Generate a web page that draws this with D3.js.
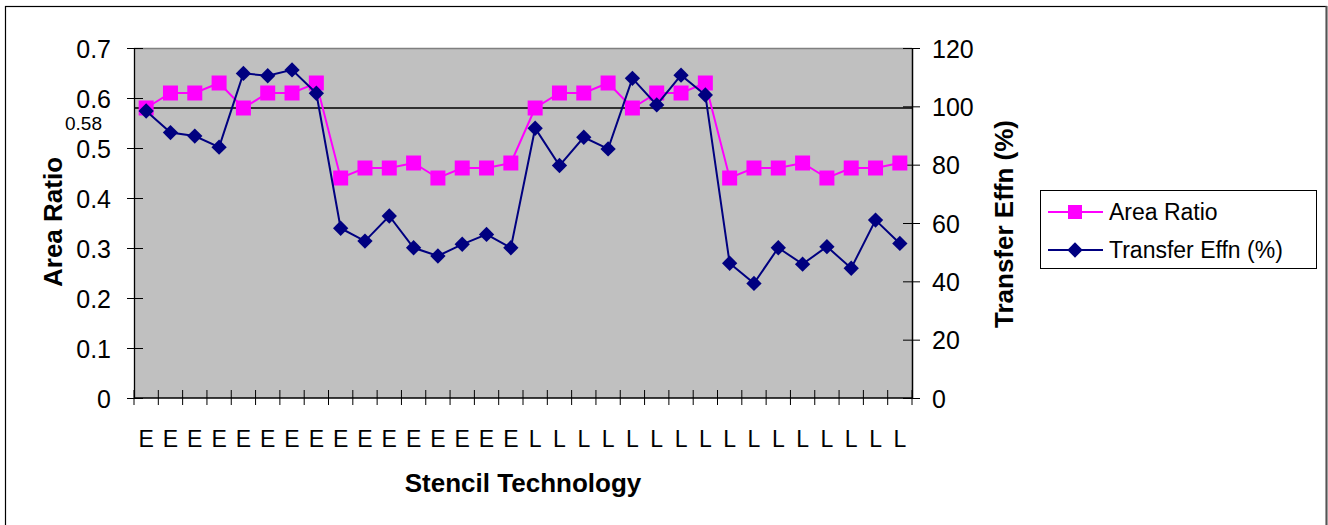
<!DOCTYPE html>
<html>
<head>
<meta charset="utf-8">
<script src="https://cdn.jsdelivr.net/npm/d3@7"></script>
<style>
  html, body { margin: 0; padding: 0; background: #fff; }
  svg { display: block; font-family: "Liberation Sans", Arial, sans-serif; }
</style>
</head>
<body>
<svg id="chart" width="1328" height="525"></svg>
<script>
// Stencil technology per sample (E = electroformed, L = laser cut)
const categories = [
  "E","E","E","E","E","E","E","E","E","E","E","E","E","E","E","E",
  "L","L","L","L","L","L","L","L","L","L","L","L","L","L","L","L"
];
// Aperture area ratio (left axis)
const areaRatio = [
  0.58, 0.61, 0.61, 0.63, 0.58, 0.61, 0.61, 0.63,
  0.44, 0.46, 0.46, 0.47, 0.44, 0.46, 0.46, 0.47,
  0.58, 0.61, 0.61, 0.63, 0.58, 0.61, 0.61, 0.63,
  0.44, 0.46, 0.46, 0.47, 0.44, 0.46, 0.46, 0.47
];
// Paste transfer efficiency in % (right axis)
const transferEffn = [
  98.4, 91.0, 89.8, 86.0, 111.3, 110.5, 112.5, 104.5,
  58.2, 53.8, 62.4, 51.5, 48.7, 52.7, 56.1, 51.5,
  92.5, 79.7, 89.4, 85.4, 109.6, 100.5, 110.7, 103.9,
  46.2, 39.3, 51.5, 45.9, 51.9, 44.5, 61.0, 53.0
];
const leftTicks = [0, 0.1, 0.2, 0.3, 0.4, 0.5, 0.6, 0.7];
const rightTicks = [0, 20, 40, 60, 80, 100, 120];
const thresholdValue = 0.58;
const thresholdLabel = "0.58";
const seriesNames = ["Area Ratio", "Transfer Effn (%)"];

const svg = d3.select("#chart");
const plot = { left: 134, right: 912, top: 48, bottom: 398 };
const tickFont = 25, titleFont = 26;

// outer chart frame
svg.append("rect")
  .attr("x", 5.5).attr("y", 6.5).attr("width", 1321).attr("height", 530)
  .attr("fill", "#fff").attr("stroke", "#000").attr("stroke-width", 1.2);
svg.append("line")
  .attr("x1", 1326.5).attr("x2", 1326.5).attr("y1", 6).attr("y2", 525)
  .attr("stroke", "#555").attr("stroke-width", 2);

const x = d3.scaleBand()
  .domain(d3.range(categories.length))
  .range([plot.left, plot.right])
  .paddingInner(0).paddingOuter(0);
const xc = i => x(i) + x.bandwidth() / 2;
const yL = d3.scaleLinear().domain([0, 0.7]).range([plot.bottom, plot.top]);
const yR = d3.scaleLinear().domain([0, 120]).range([plot.bottom, plot.top]);

// plot background
svg.append("rect")
  .attr("x", plot.left).attr("y", plot.top)
  .attr("width", plot.right - plot.left).attr("height", plot.bottom - plot.top)
  .attr("fill", "#c0c0c0");
svg.append("line")
  .attr("x1", plot.left).attr("x2", plot.right)
  .attr("y1", plot.top + 0.5).attr("y2", plot.top + 0.5)
  .attr("stroke", "#808080").attr("stroke-width", 1.5);

// left axis
const leftAxis = svg.append("g")
  .attr("transform", `translate(${plot.left},0)`)
  .call(d3.axisLeft(yL).tickValues(leftTicks).tickFormat(d => d === 0 ? "0" : d3.format(".1f")(d))
    .tickSizeInner(7).tickSizeOuter(0).tickPadding(16));
leftAxis.select(".domain").attr("stroke", "#000").attr("stroke-width", 1.3);
leftAxis.selectAll(".tick line").attr("x2", 9).attr("x1", -7).attr("stroke", "#000");
leftAxis.selectAll(".tick text").attr("font-size", tickFont).attr("fill", "#000")
  .attr("font-family", "Liberation Sans, Arial, sans-serif").attr("dy", "0.36em");

// right axis
const rightAxis = svg.append("g")
  .attr("transform", `translate(${plot.right},0)`)
  .call(d3.axisRight(yR).tickValues(rightTicks).tickFormat(d3.format("d"))
    .tickSizeInner(8).tickSizeOuter(0).tickPadding(12));
rightAxis.select(".domain").attr("stroke", "#000").attr("stroke-width", 1.5);
rightAxis.selectAll(".tick line").attr("x1", -9).attr("x2", 8).attr("stroke", "#000");
rightAxis.selectAll(".tick text").attr("font-size", tickFont).attr("fill", "#000")
  .attr("font-family", "Liberation Sans, Arial, sans-serif").attr("dy", "0.36em");

// bottom axis: ticks on band boundaries, labels centred in bands
const boundaries = d3.range(categories.length + 1).map(i => plot.left + i * x.bandwidth());
svg.append("line")
  .attr("x1", plot.left).attr("x2", plot.right)
  .attr("y1", plot.bottom).attr("y2", plot.bottom)
  .attr("stroke", "#000").attr("stroke-width", 1.3);
svg.append("g").selectAll("line").data(boundaries).join("line")
  .attr("x1", d => d).attr("x2", d => d)
  .attr("y1", plot.bottom - 8).attr("y2", plot.bottom + 7)
  .attr("stroke", "#000").attr("stroke-width", 1);
svg.append("g").selectAll("text").data(categories).join("text")
  .attr("x", (d, i) => xc(i)).attr("y", 447)
  .attr("text-anchor", "middle").attr("font-size", 23).attr("fill", "#000")
  .text(d => d);

// axis titles
svg.append("text")
  .attr("transform", "translate(62,222) rotate(-90)")
  .attr("text-anchor", "middle").attr("font-size", titleFont).attr("font-weight", "bold")
  .text(seriesNames[0]);
svg.append("text")
  .attr("transform", "translate(1013,224) rotate(-90)")
  .attr("text-anchor", "middle").attr("font-size", titleFont).attr("font-weight", "bold")
  .text(seriesNames[1]);
svg.append("text")
  .attr("x", 523).attr("y", 492)
  .attr("text-anchor", "middle").attr("font-size", titleFont).attr("font-weight", "bold")
  .text("Stencil Technology");

// threshold reference line with its label
svg.append("line")
  .attr("x1", plot.left).attr("x2", plot.right)
  .attr("y1", yL(thresholdValue)).attr("y2", yL(thresholdValue))
  .attr("stroke", "#000").attr("stroke-width", 1.5);
svg.append("text")
  .attr("x", 65).attr("y", 130)
  .attr("font-size", 19).attr("fill", "#000")
  .text(thresholdLabel);

// Area Ratio series
svg.append("path")
  .datum(areaRatio)
  .attr("fill", "none").attr("stroke", "#ff00ff").attr("stroke-width", 2)
  .attr("d", d3.line().x((d, i) => xc(i)).y(d => yL(d)));
svg.append("g").selectAll("rect").data(areaRatio).join("rect")
  .attr("x", (d, i) => xc(i) - 7.5).attr("y", d => yL(d) - 7.5)
  .attr("width", 15).attr("height", 15).attr("fill", "#ff00ff");

// Transfer efficiency series
svg.append("path")
  .datum(transferEffn)
  .attr("fill", "none").attr("stroke", "#000080").attr("stroke-width", 2)
  .attr("d", d3.line().x((d, i) => xc(i)).y(d => yR(d)));
const diamond = d3.symbol().type(d3.symbolDiamond2).size(150);
svg.append("g").selectAll("path").data(transferEffn).join("path")
  .attr("transform", (d, i) => `translate(${xc(i)},${yR(d)})`)
  .attr("d", diamond).attr("fill", "#000080");

// legend
const lg = svg.append("g");
lg.append("rect")
  .attr("x", 1040.5).attr("y", 190.5).attr("width", 276).attr("height", 78)
  .attr("fill", "#fff").attr("stroke", "#000").attr("stroke-width", 1);
const items = [
  { name: seriesNames[0], color: "#ff00ff", marker: "square", y: 212 },
  { name: seriesNames[1], color: "#000080", marker: "diamond", y: 250 }
];
items.forEach(it => {
  lg.append("line").attr("x1", 1048).attr("x2", 1103).attr("y1", it.y).attr("y2", it.y)
    .attr("stroke", it.color).attr("stroke-width", 2);
  if (it.marker === "square") {
    lg.append("rect").attr("x", 1068).attr("y", it.y - 7).attr("width", 14).attr("height", 14)
      .attr("fill", it.color);
  } else {
    lg.append("path").attr("transform", `translate(1075,${it.y})`)
      .attr("d", diamond).attr("fill", it.color);
  }
  lg.append("text").attr("x", 1109).attr("y", it.y + 8)
    .attr("font-size", 23).attr("fill", "#000").text(it.name);
});
</script>
</body>
</html>
